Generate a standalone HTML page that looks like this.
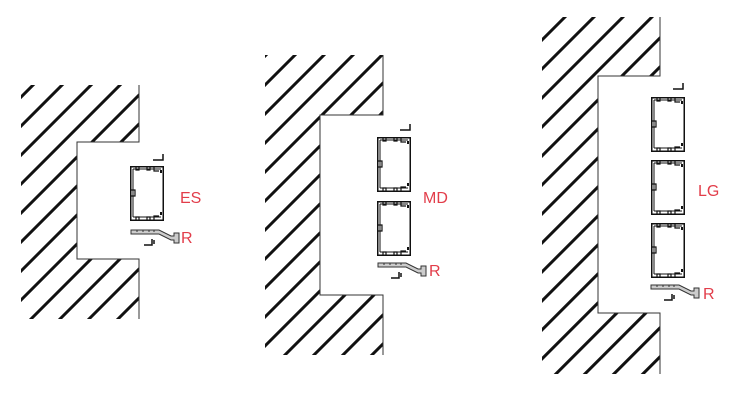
<!DOCTYPE html>
<html><head><meta charset="utf-8"><style>
html,body{margin:0;padding:0;background:#fff;width:735px;height:413px;overflow:hidden}
text{font-family:"Liberation Sans",sans-serif;font-size:16px;fill:#e23d4a}
</style></head><body>
<svg width="735" height="413" viewBox="0 0 735 413" xmlns="http://www.w3.org/2000/svg">
<defs>
<pattern id="h" patternUnits="userSpaceOnUse" width="20.5" height="20" patternTransform="rotate(45)">
<rect x="0" y="0" width="3" height="20" fill="#111"/>
</pattern>
<g id="box" fill="none" stroke="#111">
<rect x="0.75" y="0.75" width="32.5" height="53.5" stroke-width="1.5"/>
<path d="M3 3h28M3 51h28M3 3v48" stroke-width="1"/>
<path d="M6 1v3h3v-3M17 1v3h3v-3M24 1v4h5M6 54v-3h3v3M17 54v-3h3v3M24 54v-4h5M1 24h4v6h-4" stroke-width="1.2"/>
<rect x="30" y="4" width="2" height="3" fill="#111" stroke="none"/>
<rect x="30" y="46" width="2" height="3" fill="#111" stroke="none"/>
</g>
<g id="ltop" fill="none" stroke="#111" stroke-width="1.5"><path d="M0 5h10v-6"/></g>
<g id="rail" fill="none" stroke="#333" stroke-width="1">
<path d="M0 0h28l12 6h3v-3h5v10h-5v-3h-3l-12-6h-28z" fill="#ccc"/>
<path d="M6 0v2M12 0v2M18 0v2M23 0v2" />
<path d="M21 9v6h-8M23 10v4" stroke="#111" stroke-width="1.5"/>
</g>
</defs>

<!-- ES -->
<path d="M21 85H139V142H77V259H139V319H21Z" fill="url(#h)"/>
<path d="M139 85V142H77V259H139V319" fill="none" stroke="#333" stroke-width="1"/>
<use href="#ltop" x="153" y="155"/>
<use href="#box" x="130" y="166"/>
<use href="#rail" x="131" y="230"/>
<text x="180" y="203">ES</text>
<text x="181" y="243">R</text>

<!-- MD -->
<path d="M265 55H383V115H320V295H383V355H265Z" fill="url(#h)"/>
<path d="M383 55V115H320V295H383V355" fill="none" stroke="#333" stroke-width="1"/>
<use href="#ltop" x="400" y="125"/>
<use href="#box" x="377" y="137"/>
<use href="#box" x="377" y="201"/>
<use href="#rail" x="378" y="263"/>
<text x="423" y="203">MD</text>
<text x="429" y="276">R</text>

<!-- LG -->
<path d="M542 17H660V76H598V313H660V374H542Z" fill="url(#h)"/>
<path d="M660 17V76H598V313H660V374" fill="none" stroke="#333" stroke-width="1"/>
<use href="#ltop" x="673" y="84"/>
<use href="#box" x="651" y="97"/>
<use href="#box" x="651" y="160"/>
<use href="#box" x="651" y="223"/>
<use href="#rail" x="651" y="285"/>
<text x="698" y="196">LG</text>
<text x="703" y="299">R</text>
</svg>
</body></html>
